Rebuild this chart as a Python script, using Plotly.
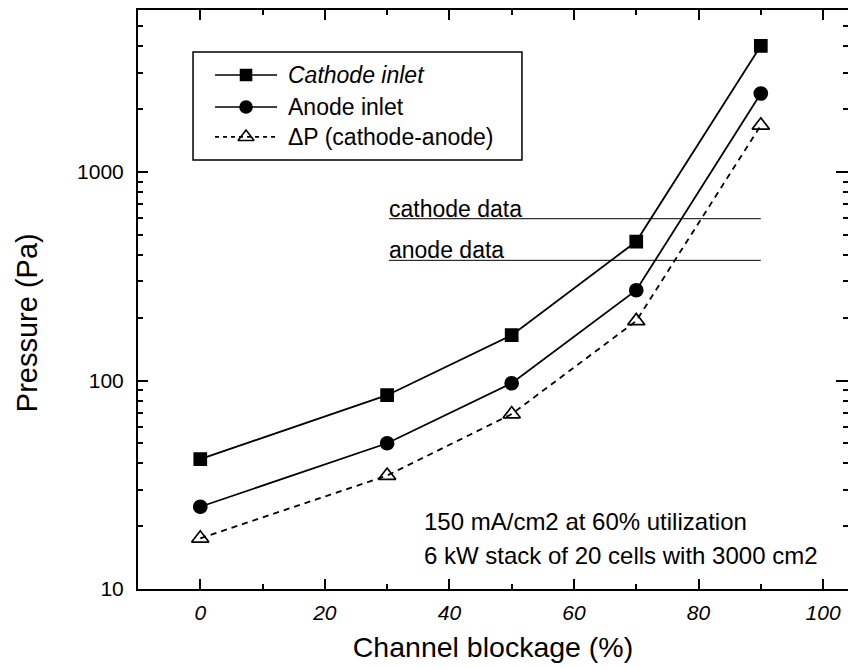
import math
import plotly.graph_objects as go

# ---- data ----
blockage = [0, 30, 50, 70, 90]
cathode_inlet = [42, 85, 165, 464, 4030]
anode_inlet = [24.8, 50, 97, 271, 2380]
delta_p = [17.5, 35, 69, 193, 1675]

ref_names = ["cathode data", "anode data"]
ref_values = [597, 377]
ref_x = [30.3, 90]

note_lines = ["150 mA/cm2 at 60% utilization", "6 kW stack of 20 cells with 3000 cm2"]

x_ticks = [0, 20, 40, 60, 80, 100]
y_ticks = [10, 100, 1000]
y_ticklabels = ["10", "100", "1000"]

series_names = ["<i>Cathode inlet</i>", "Anode inlet", "\u0394P (cathode-anode)"]
series_data = [cathode_inlet, anode_inlet, delta_p]
series_symbols = ["square", "circle", "triangle-up-open"]
series_sizes = [12, 13, 15]
series_dash = ["solid", "solid", "6px,5px"]

FONT = "Liberation Sans, Arial, Helvetica, sans-serif"

fig = go.Figure()
for name, ys, sym, sz, dash in zip(series_names, series_data, series_symbols, series_sizes, series_dash):
    fig.add_trace(go.Scatter(
        x=blockage, y=ys, name=name, mode="lines+markers", showlegend=False,
        line=dict(color="black", width=1.8, dash=dash),
        marker=dict(symbol=sym, size=sz, color="black", line=dict(width=1.7, color="black"))))

# invisible trace that carries the right-hand tick axis
fig.add_trace(go.Scatter(x=blockage, y=cathode_inlet, xaxis="x", yaxis="y3", mode="markers",
                         marker=dict(opacity=0), showlegend=False, hoverinfo="skip"))

# ---- hand-made legend (wider sample lines than plotly's native legend) ----
leg_rows = [0.8877, 0.8325, 0.7807]
leg_line = [0.1085, 0.1958]
for name, sym, sz, dash, yr in zip(series_names, series_symbols, series_sizes, series_dash, leg_rows):
    fig.add_trace(go.Scatter(x=leg_line, y=[yr, yr], xaxis="x2", yaxis="y2", mode="lines",
                             line=dict(color="black", width=1.7, dash="4px,4px" if dash != "solid" else "solid"),
                             showlegend=False, hoverinfo="skip"))
    fig.add_trace(go.Scatter(x=[sum(leg_line) / 2], y=[yr], xaxis="x2", yaxis="y2", mode="markers",
                             marker=dict(symbol=sym, size=sz - 1, color="black",
                                         line=dict(width=1.6, color="black")),
                             showlegend=False, hoverinfo="skip"))
    fig.add_annotation(x=0.2085, y=yr, xref="paper", yref="paper", text=name, showarrow=False,
                       xanchor="left", yanchor="middle",
                       font=dict(family=FONT, size=23, color="black"))
fig.add_shape(type="rect", xref="paper", yref="paper", x0=0.0775, x1=0.5408, y0=0.741, y1=0.9275,
              line=dict(color="black", width=1.5), fillcolor="rgba(0,0,0,0)")

for name, val in zip(ref_names, ref_values):
    fig.add_shape(type="line", xref="x", yref="y", x0=ref_x[0], x1=ref_x[1], y0=val, y1=val,
                  line=dict(color="black", width=1))
    fig.add_annotation(x=ref_x[0], y=math.log10(val), xref="x", yref="y", text=name, showarrow=False,
                       xanchor="left", yanchor="bottom", yshift=-5, xshift=-2,
                       font=dict(family=FONT, size=23, color="black"))

for i, line in enumerate(note_lines):
    fig.add_annotation(x=0.400, y=0.117 - i * 0.059, xref="paper", yref="paper", text=line,
                       showarrow=False, xanchor="left", yanchor="middle",
                       font=dict(family=FONT, size=24, color="black"))

# y-axis title as annotation (offset from plot centre like the reference)
fig.add_annotation(x=-0.157, y=0.46, xref="paper", yref="paper", text="Pressure (Pa)",
                   showarrow=False, textangle=-90, xanchor="center", yanchor="middle",
                   font=dict(family=FONT, size=29, color="black"))

tick_common = dict(ticks="inside", tickcolor="black", tickwidth=1.5, ticklen=10,
                   showgrid=False, zeroline=False)

fig.update_layout(
    xaxis=dict(range=[-10, 104], tickvals=x_ticks, showline=True, linecolor="black", linewidth=2,
               mirror="ticks", ticklabelstandoff=4,
               minor=dict(ticks="inside", ticklen=5, tickcolor="black", tickwidth=1.5, dtick=10, tick0=0),
               tickfont=dict(family=FONT, size=21, color="black", style="italic"),
               title=dict(text="Channel blockage (%)", font=dict(family=FONT, size=28.5, color="black"),
                          standoff=14),
               **tick_common),
    yaxis=dict(type="log", range=[1, 3.777], tickvals=y_ticks, ticktext=y_ticklabels,
               showline=True, linecolor="black", linewidth=2, mirror=False,
               minor=dict(ticks="inside", ticklen=5, tickcolor="black", tickwidth=1.5, dtick="D1"),
               tickfont=dict(family=FONT, size=21, color="black"),
               ticklabelstandoff=8, **tick_common),
    yaxis3=dict(type="log", range=[1, 3.777], tickvals=y_ticks, overlaying="y", side="right",
                anchor="x", showline=False, showticklabels=False,
                minor=dict(ticks="inside", ticklen=5, tickcolor="black", tickwidth=1.5, dtick="D1"),
                ticklen=12, **{k: v for k, v in tick_common.items() if k != "ticklen"}),
    xaxis2=dict(range=[0, 1], overlaying="x", visible=False, fixedrange=True),
    yaxis2=dict(range=[0, 1], overlaying="y", visible=False, fixedrange=True, anchor="x2"),
    width=848, height=668,
    margin=dict(l=138, r=0, t=10, b=79),
    paper_bgcolor="white", plot_bgcolor="white",
    font=dict(family=FONT, color="black"),
    showlegend=False,
)

fig.write_html("out.html")
